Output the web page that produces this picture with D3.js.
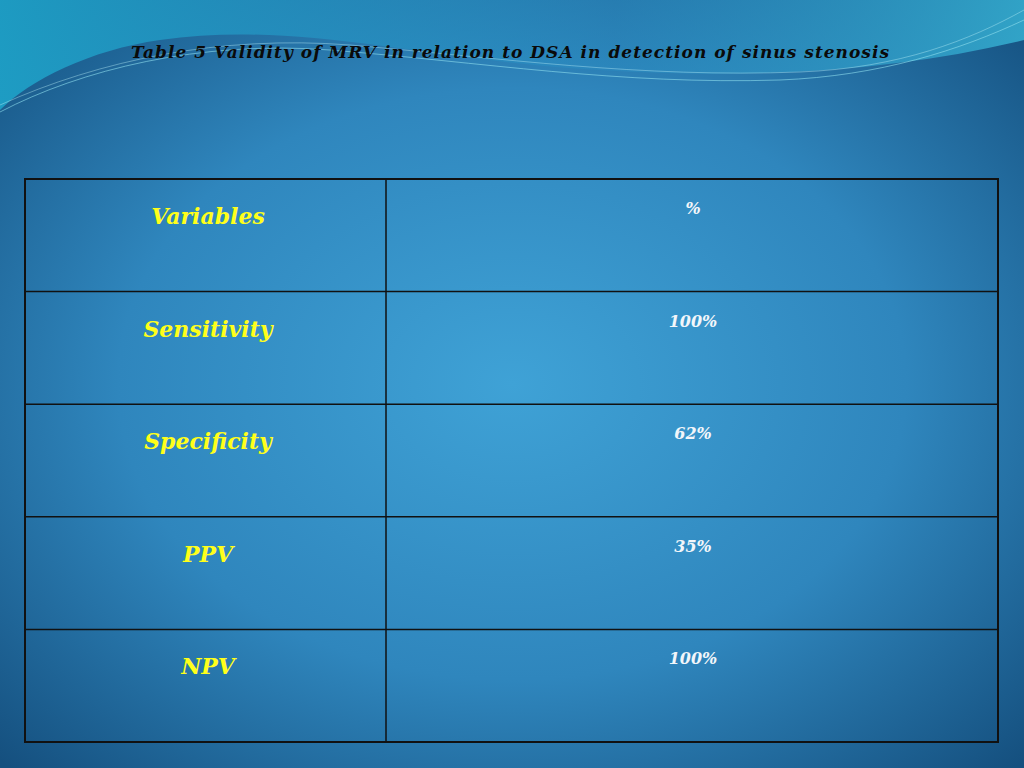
<!DOCTYPE html>
<html>
<head>
<meta charset="utf-8">
<script src="https://cdn.jsdelivr.net/npm/d3@7"></script>
<style>
  html, body { margin: 0; padding: 0; overflow: hidden; }
</style>
</head>
<body>
<svg id="chart" width="1024" height="768"></svg>
<script>
// table content
const title = "Table 5 Validity of MRV in relation to DSA in detection of sinus stenosis";
const headerLabel = "Variables";
const headerValue = "%";
const variables = ["Sensitivity", "Specificity", "PPV", "NPV"];
const percents = ["100%", "62%", "35%", "100%"];

let svg = d3.select("#chart");
let W = 1024, H = 768;

// background
let defs = svg.append("defs");
let bg = defs.append("radialGradient").attr("id", "bg")
    .attr("cx", "50%").attr("cy", "50%").attr("r", "70%");
bg.append("stop").attr("offset", "0%").attr("stop-color", "#3fa2d6");
bg.append("stop").attr("offset", "55%").attr("stop-color", "#2f86bd");
bg.append("stop").attr("offset", "100%").attr("stop-color", "#15507f");
svg.append("rect").attr("width", W).attr("height", H).attr("fill", "url(#bg)");

// top wave decoration
let wave = defs.append("linearGradient").attr("id", "wave").attr("x1", "0").attr("x2", "1");
wave.append("stop").attr("offset", "0%").attr("stop-color", "#1ea3c9").attr("stop-opacity", 0.9);
wave.append("stop").attr("offset", "60%").attr("stop-color", "#2a8fc4").attr("stop-opacity", 0.4);
wave.append("stop").attr("offset", "100%").attr("stop-color", "#38b7d8").attr("stop-opacity", 0.8);
svg.append("path")
    .attr("d", "M0,0 L1024,0 L1024,40 C900,70 760,80 600,70 C420,60 300,20 160,40 C90,50 30,80 0,110 Z")
    .attr("fill", "url(#wave)");
svg.append("path")
    .attr("d", "M0,112 C80,70 200,40 330,50 C480,62 620,85 780,80 C880,76 960,50 1024,20")
    .attr("fill", "none").attr("stroke", "#8fe0ef").attr("stroke-opacity", 0.6).attr("stroke-width", 1);
svg.append("path")
    .attr("d", "M0,105 C100,60 220,35 350,45 C500,58 640,78 800,72 C900,68 970,40 1024,10")
    .attr("fill", "none").attr("stroke", "#bff2fa").attr("stroke-opacity", 0.5).attr("stroke-width", 0.8);

// title
svg.append("text")
    .attr("x", 510).attr("y", 58)
    .attr("text-anchor", "middle")
    .style("font", "italic bold 17px 'DejaVu Serif', serif")
    .attr("textLength", 758)
    .attr("fill", "#0a0a0a")
    .text(title);

// table
let rows = [{label: headerLabel, value: headerValue}]
    .concat(variables.map((v, i) => ({label: v, value: percents[i]})));

let y = d3.scaleBand().domain(d3.range(rows.length)).range([179, 742]);
let x = d3.scaleOrdinal().domain(["label", "value"]).range([25, 386]);
let colEnd = 998;

let g = svg.append("g");
g.append("rect")
    .attr("x", 25).attr("y", 179).attr("width", colEnd - 25).attr("height", 742 - 179)
    .attr("fill", "none").attr("stroke", "#111").attr("stroke-width", 2);
g.selectAll(".hline").data(d3.range(1, rows.length)).enter().append("line")
    .attr("x1", 25).attr("x2", colEnd)
    .attr("y1", d => y(d)).attr("y2", d => y(d))
    .attr("stroke", "#111").attr("stroke-width", 1.5);
g.append("line")
    .attr("x1", x("value")).attr("x2", x("value"))
    .attr("y1", 179).attr("y2", 742)
    .attr("stroke", "#111").attr("stroke-width", 1.5);

g.selectAll(".lbl").data(rows).enter().append("text")
    .attr("x", 208)
    .attr("y", (d, i) => y(i) + 45)
    .attr("text-anchor", "middle")
    .style("font", "italic bold 22px 'DejaVu Serif', serif")
    .attr("fill", "#ffff1a")
    .text(d => d.label);

g.selectAll(".val").data(rows).enter().append("text")
    .attr("x", 693)
    .attr("y", (d, i) => y(i) + 35)
    .attr("text-anchor", "middle")
    .style("font", "italic bold 16px 'DejaVu Serif', serif")
    .attr("fill", "#f2f6fa")
    .text(d => d.value);
</script>
</body>
</html>
